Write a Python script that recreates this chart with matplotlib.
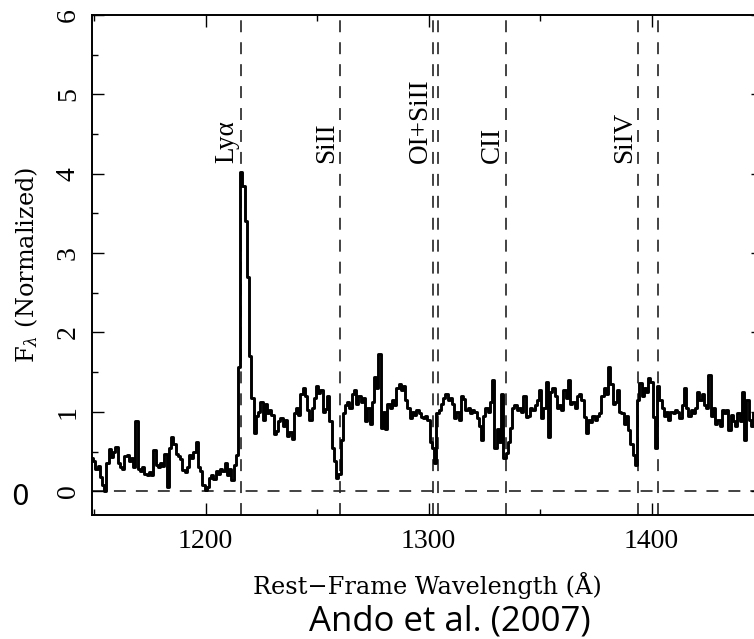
import numpy as np
import matplotlib
matplotlib.use('Agg')
import matplotlib.pyplot as plt
from matplotlib.ticker import MultipleLocator

# rest-frame spectrum, 1 A pixels from 1149 to 1450 A
wave = np.arange(1149, 1451)
flux = np.array([
    0.42, 0.38, 0.28, 0.32, 0.18, 0.08, 0.00, 0.35, 0.53, 0.43,
    0.50, 0.56, 0.36, 0.30, 0.28, 0.44, 0.46, 0.38, 0.42, 0.30,
    0.89, 0.28, 0.26, 0.30, 0.22, 0.20, 0.24, 0.21, 0.52, 0.33,
    0.30, 0.36, 0.32, 0.47, 0.05, 0.55, 0.68, 0.60, 0.47, 0.44,
    0.40, 0.27, 0.24, 0.30, 0.45, 0.42, 0.50, 0.62, 0.30, 0.25,
    0.08, 0.02, 0.05, 0.17, 0.20, 0.15, 0.25, 0.22, 0.28, 0.26,
    0.36, 0.20, 0.28, 0.14, 0.33, 0.45, 1.57, 4.02, 3.85, 3.40,
    2.70, 1.70, 1.18, 0.73, 0.95, 1.00, 1.12, 0.90, 1.10, 0.98,
    1.02, 0.96, 0.72, 0.76, 0.88, 0.92, 0.82, 0.90, 0.70, 0.74,
    0.66, 0.98, 1.05, 0.96, 1.22, 1.30, 1.20, 1.02, 0.90, 1.05,
    1.18, 1.33, 1.24, 1.28, 1.00, 1.04, 1.20, 0.88, 0.55, 0.38,
    0.16, 0.22, 0.65, 0.98, 1.08, 1.12, 1.05, 1.22, 1.27, 1.10,
    1.20, 1.12, 1.18, 0.88, 1.05, 0.85, 1.12, 1.44, 1.30, 1.73,
    0.80, 1.00, 0.78, 1.10, 1.05, 1.15, 1.08, 1.30, 1.35, 1.28,
    1.32, 1.15, 1.05, 0.92, 1.00, 0.96, 1.02, 0.98, 0.94, 0.92,
    0.95, 0.90, 0.62, 0.55, 0.35, 0.98, 1.02, 1.10, 1.18, 1.22,
    1.15, 1.18, 1.10, 0.92, 1.00, 0.90, 1.20, 1.16, 1.02, 1.05,
    0.98, 1.02, 1.00, 0.92, 0.82, 0.65, 0.95, 1.05, 1.00, 1.12,
    1.40, 0.55, 0.78, 0.62, 1.23, 0.42, 0.48, 0.62, 0.80, 1.05,
    1.08, 1.02, 1.05, 1.00, 1.20, 0.93, 0.95, 1.05, 1.02, 1.08,
    1.15, 1.27, 0.92, 1.05, 1.38, 0.68, 1.25, 1.30, 1.20, 1.05,
    1.08, 1.02, 1.27, 1.18, 1.40, 1.10, 1.12, 1.05, 1.20, 1.22,
    1.15, 0.93, 0.73, 0.90, 0.87, 0.95, 0.90, 0.95, 0.98, 1.20,
    1.30, 1.22, 1.57, 1.35, 1.10, 1.12, 1.27, 1.00, 0.98, 0.85,
    0.95, 0.77, 0.60, 0.45, 0.33, 1.15, 1.36, 1.20, 1.30, 1.25,
    1.42, 1.38, 0.93, 0.54, 1.33, 1.15, 1.05, 0.95, 1.00, 0.90,
    1.00, 0.98, 1.02, 1.00, 0.92, 1.08, 1.30, 1.05, 0.95, 1.02,
    0.98, 1.05, 1.25, 1.15, 1.22, 1.08, 1.05, 1.46, 0.95, 1.05,
    0.85, 0.90, 0.82, 1.02, 0.98, 1.02, 0.77, 0.96, 0.88, 0.82,
    0.98, 0.88, 1.25, 0.64, 1.15, 0.90, 0.82, 0.98, 0.92, 1.00,
    0.88, 0.95,
])

# interstellar / emission line positions
line_wave = [1215.67, 1260.42, 1302.17, 1304.37, 1334.53, 1393.76, 1402.77]
label_wave = [1215.67, 1260.42, 1302.17, 1334.53, 1393.76]
label_text = ['Lyα', 'SiII', 'OI+SiII', 'CII', 'SiIV']

plt.rcParams['lines.scale_dashes'] = False
plt.rcParams['mathtext.fontset'] = 'dejavuserif'

fig = plt.figure(figsize=(7.54, 6.39), dpi=100)
ax = fig.add_axes([92 / 754, 124 / 639, 671 / 754, 500 / 639])

dash = (0, (8.6, 7.2))
for w in line_wave:
    ax.axvline(w, color='#222222', lw=1.2, ls=dash, zorder=1)
ax.axhline(0, color='#222222', lw=1.2, ls=dash, zorder=1)

ax.step(wave, flux, where='mid', color='k', lw=2.1, zorder=3)

for w, t in zip(label_wave, label_text):
    ax.text(w - 0.4, 4.14, t, rotation=90, ha='right', va='bottom',
            fontsize=19.5, family='Liberation Serif')

ax.set_xlim(1149, 1450)
ax.set_ylim(-0.3, 6)
ax.xaxis.set_major_locator(MultipleLocator(100))
ax.xaxis.set_minor_locator(MultipleLocator(50))
ax.yaxis.set_major_locator(MultipleLocator(1))
ax.yaxis.set_minor_locator(MultipleLocator(0.5))
ax.tick_params(which='both', direction='in', top=True, right=True, width=1)
ax.tick_params(which='major', length=8.5)
ax.tick_params(which='minor', length=4.5)
ax.tick_params(axis='x', pad=10)
ax.tick_params(axis='y', labelrotation=90, pad=8)
for lbl in ax.get_xticklabels() + ax.get_yticklabels():
    lbl.set_family('Liberation Serif')
    lbl.set_fontsize(20)
for lbl in ax.get_yticklabels():
    lbl.set_va('center')
for s in ax.spines.values():
    s.set_linewidth(1.4)

ax.set_xlabel('Rest−Frame Wavelength (Å)', family='DejaVu Serif',
              fontsize=17.3, labelpad=13)
ax.set_ylabel(r'F$_\lambda$ (Normalized)', family='DejaVu Serif',
              fontsize=17.3)
ax.yaxis.set_label_coords(-52 / 671, 0.5)

fig.text(20 / 754, 1 - 497 / 639, '0', ha='center', va='center',
         fontsize=20, family='DejaVu Sans')
fig.text(450 / 754, 9 / 639, 'Ando et al. (2007)', ha='center',
         va='baseline', fontsize=25, family='Open Sans')

fig.savefig('out.png', dpi=100)
